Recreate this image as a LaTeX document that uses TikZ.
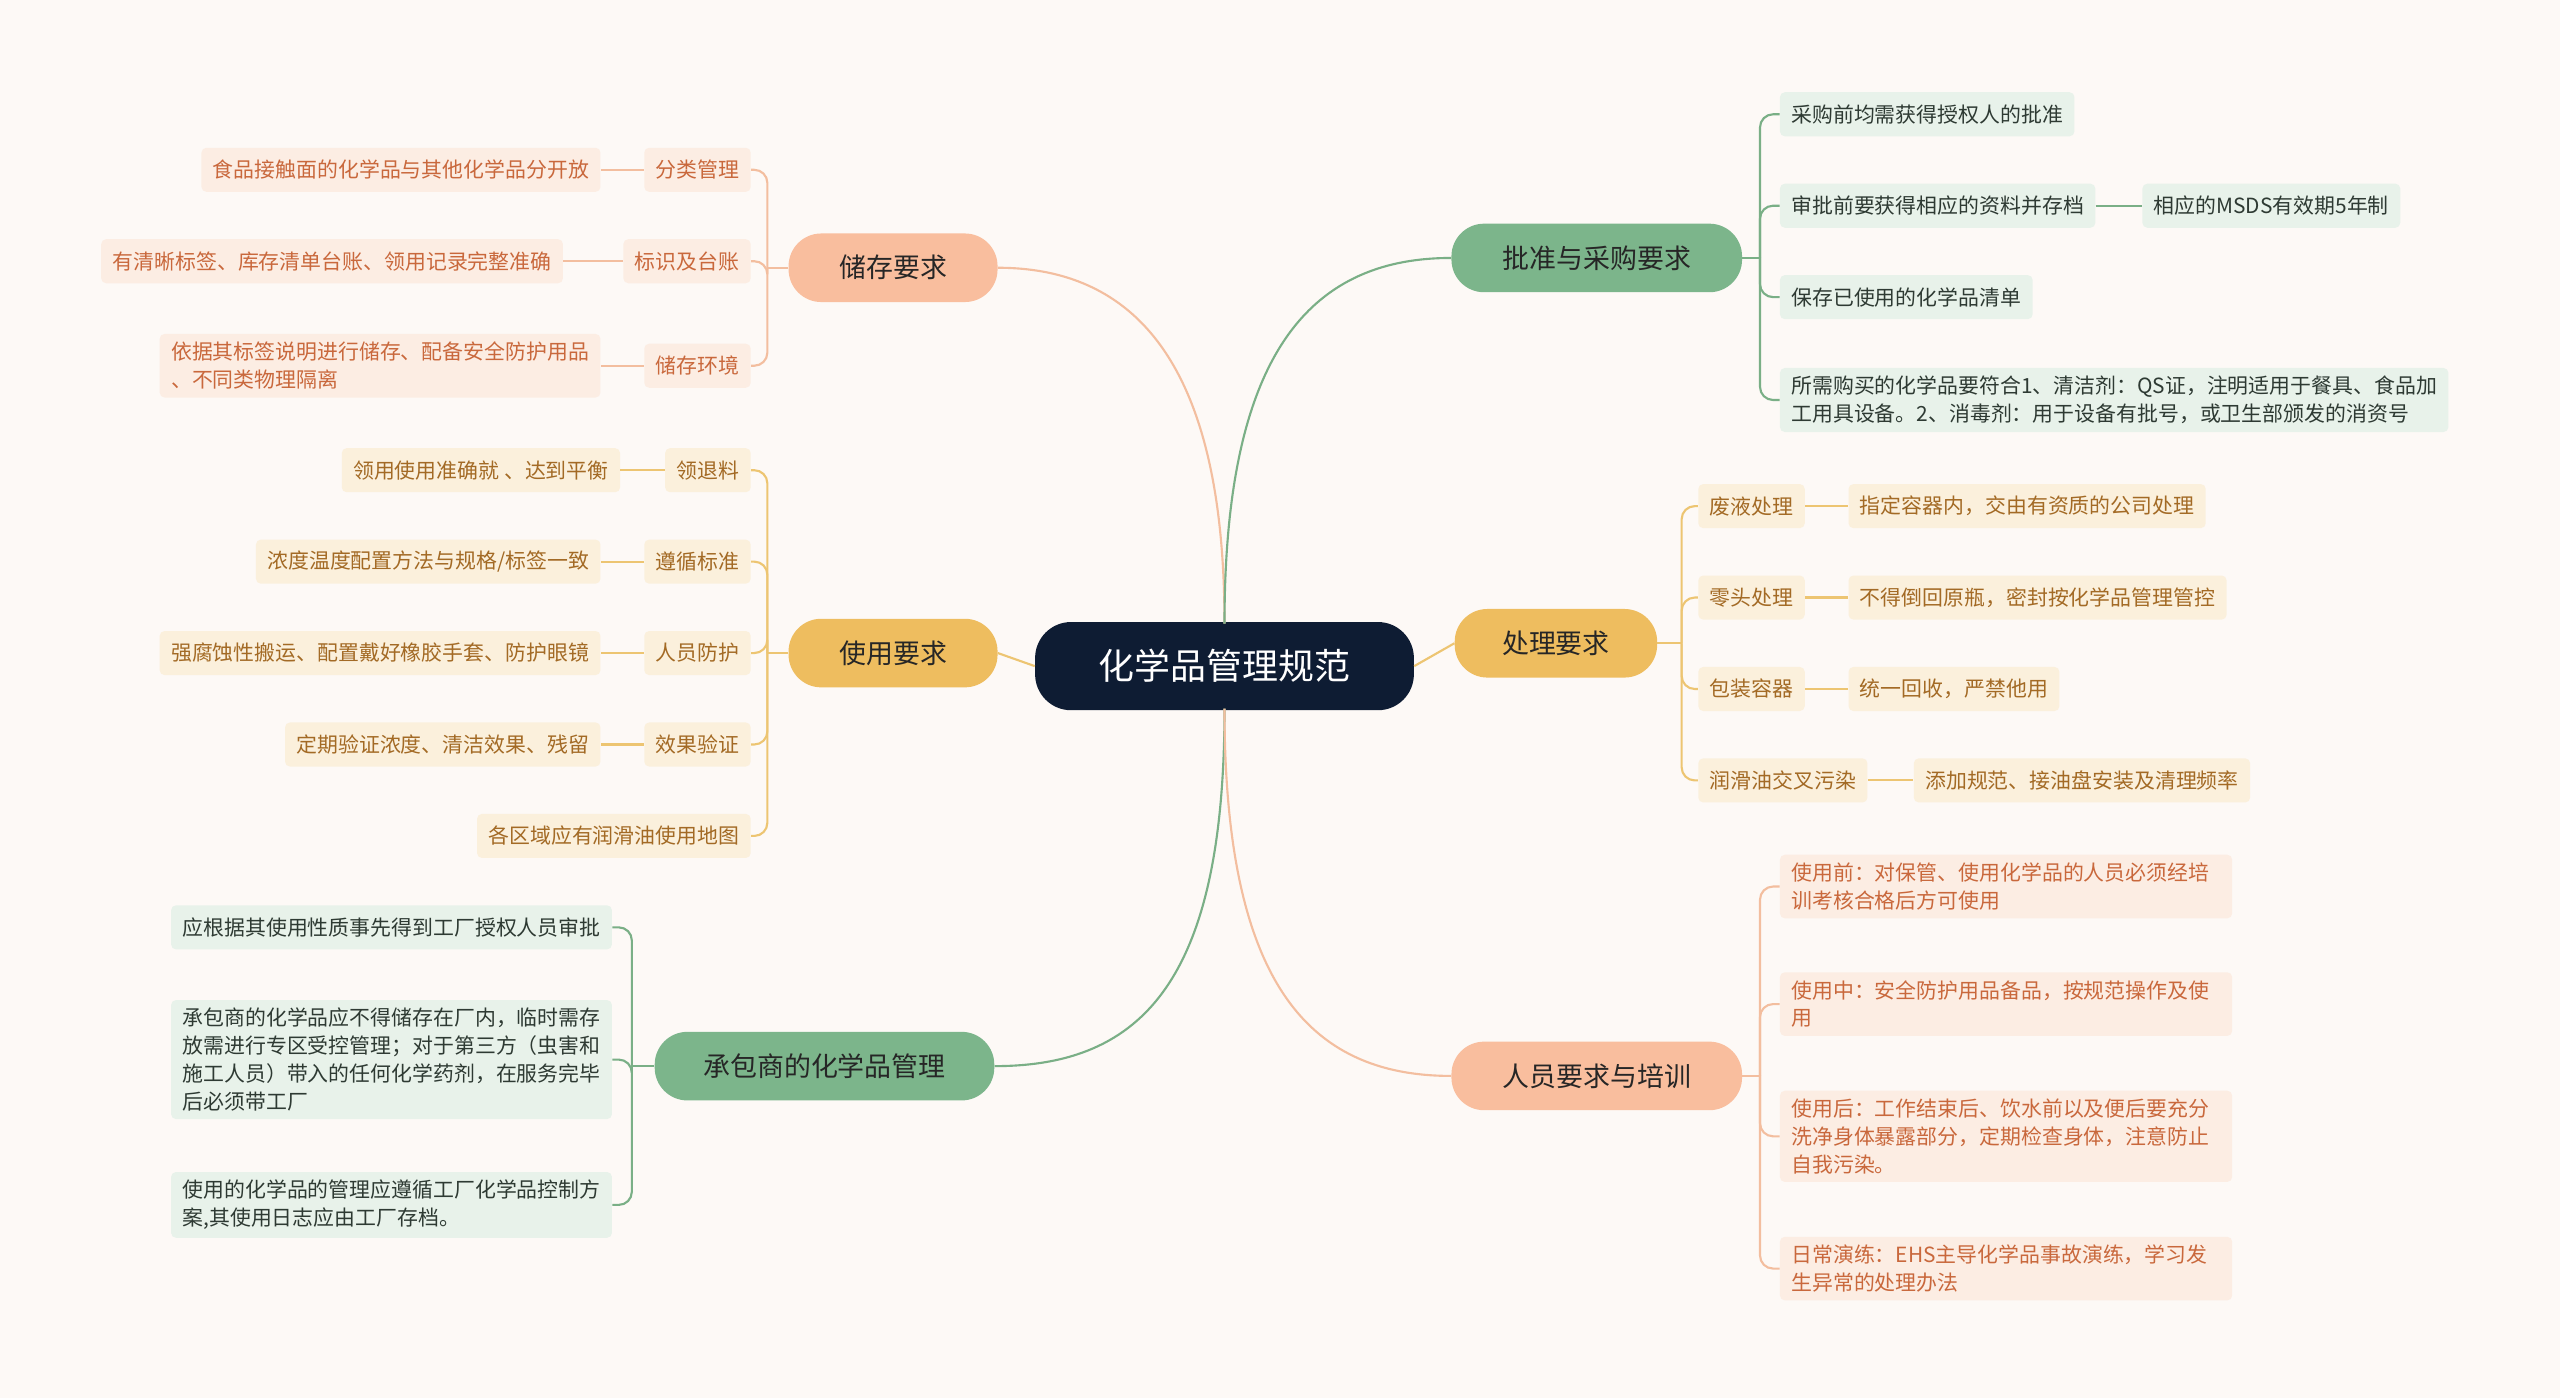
\documentclass[tikz,border=0pt]{standalone}
\usepackage{fontspec}
\setmainfont{Noto Sans CJK SC}
\begin{document}
\begin{tikzpicture}[x=1pt,y=-1pt,
  cnode/.style={fill=navy,rounded corners=22,minimum width=232,minimum height=54,text=white,font=\fontsize{22}{26}\selectfont},
  br/.style={rounded corners=20,minimum height=42,inner xsep=14,font=\fontsize{16.5}{20}\selectfont},
  lf/.style={rounded corners=3,inner xsep=7,inner ysep=5,minimum height=27,align=left,font=\fontsize{12.8}{17}\selectfont},
  peachlf/.style={lf,fill=peachL,text=peachT},
  goldlf/.style={lf,fill=goldL,text=goldT},
  greenlf/.style={lf,fill=greenL,text=greenT},
  peachln/.style={draw=peachD,line width=1.3},
  goldln/.style={draw=goldD,line width=1.3},
  greenln/.style={draw=greenD,line width=1.3},
  bk/.style={rounded corners=8}]
\definecolor{navy}{HTML}{0E1C33}
\definecolor{bg}{HTML}{FDF9F6}
\definecolor{peach}{HTML}{F9BE9E}\definecolor{peachD}{HTML}{F3BE9F}\definecolor{peachL}{HTML}{FCEDE3}\definecolor{peachT}{HTML}{C9683C}
\definecolor{gold}{HTML}{EEBD5F}\definecolor{goldD}{HTML}{EDC572}\definecolor{goldL}{HTML}{FBF0DC}\definecolor{goldT}{HTML}{A36A25}
\definecolor{green}{HTML}{7CB58B}\definecolor{greenD}{HTML}{7AAF86}\definecolor{greenL}{HTML}{E8F2EA}\definecolor{greenT}{HTML}{2E3A33}
\fill[bg] (0,0) rectangle (1568,856);
\useasboundingbox (0,0) rectangle (1568,856);
% center and branches
\node[cnode] (c) at (750,408) {化学品管理规范};
\node[br,fill=peach,minimum width=128,text=black!85] (s) at (547,164) {储存要求};
\node[br,fill=gold,minimum width=128,text=black!85] (u) at (547,400) {使用要求};
\node[br,fill=green,minimum width=208,text=black!85] (k) at (505,653) {承包商的化学品管理};
\node[br,fill=green,minimum width=178,text=black!85] (a) at (978,158) {批准与采购要求};
\node[br,fill=gold,minimum width=124,text=black!85] (p) at (953,394) {处理要求};
\node[br,fill=peach,minimum width=178,text=black!85] (r) at (978,659) {人员要求与培训};
\draw[peachln] (750,382) .. controls (750,230) and (700,164) .. (s.east);
\draw[goldln] (c.west) -- (u.east);
\draw[greenln] (750,434) .. controls (750,600) and (700,653) .. (k.east);
\draw[greenln] (750,382) .. controls (750,220) and (800,158) .. (a.west);
\draw[goldln] (c.east) -- (p.west);
\draw[peachln] (750,434) .. controls (750,600) and (800,659) .. (r.west);
% storage
\node[peachlf,anchor=east] (s1) at (460,104) {分类管理};
\node[peachlf,anchor=east] (s1a) at (368,104) {食品接触面的化学品与其他化学品分开放};
\node[peachlf,anchor=east] (s2) at (460,160) {标识及台账};
\node[peachlf,anchor=east] (s2a) at (345,160) {有清晰标签、库存清单台账、领用记录完整准确};
\node[peachlf,anchor=east] (s3) at (460,224) {储存环境};
\node[peachlf,anchor=east] (s3a) at (368,224) {依据其标签说明进行储存、配备安全防护用品\\、不同类物理隔离};
\coordinate (sb) at (470,164);
\draw[peachln] (s.west) -- (sb);
\foreach \n in {s1,s2,s3}{\draw[peachln,bk] (sb) -- (sb|-\n.east) -- (\n.east);}
\draw[peachln] (s1.west)--(s1a.east) (s2.west)--(s2a.east) (s3.west)--(s3a.east);
% use
\node[goldlf,anchor=east] (u1) at (460,288) {领退料};
\node[goldlf,anchor=east] (u1a) at (380,288) {领用使用准确就 、达到平衡};
\node[goldlf,anchor=east] (u2) at (460,344) {遵循标准};
\node[goldlf,anchor=east] (u2a) at (368,344) {浓度温度配置方法与规格/标签一致};
\node[goldlf,anchor=east] (u3) at (460,400) {人员防护};
\node[goldlf,anchor=east] (u3a) at (368,400) {强腐蚀性搬运、配置戴好橡胶手套、防护眼镜};
\node[goldlf,anchor=east] (u4) at (460,456) {效果验证};
\node[goldlf,anchor=east] (u4a) at (368,456) {定期验证浓度、清洁效果、残留};
\node[goldlf,anchor=east] (u5) at (460,512) {各区域应有润滑油使用地图};
\coordinate (ub) at (470,400);
\draw[goldln] (u.west) -- (ub);
\foreach \n in {u1,u2,u3,u4,u5}{\draw[goldln,bk] (ub) -- (ub|-\n.east) -- (\n.east);}
\draw[goldln] (u1.west)--(u1a.east) (u2.west)--(u2a.east) (u3.west)--(u3a.east) (u4.west)--(u4a.east);
% contractor
\node[greenlf,anchor=east] (k1) at (375,568) {应根据其使用性质事先得到工厂授权人员审批};
\node[greenlf,anchor=east] (k2) at (375,649) {承包商的化学品应不得储存在厂内，临时需存\\放需进行专区受控管理；对于第三方（虫害和\\施工人员）带入的任何化学药剂，在服务完毕\\后必须带工厂};
\node[greenlf,anchor=east] (k3) at (375,738) {使用的化学品的管理应遵循工厂化学品控制方\\案,其使用日志应由工厂存档。};
\coordinate (kb) at (387,653);
\draw[greenln] (k.west) -- (kb);
\foreach \n in {k1,k2,k3}{\draw[greenln,bk] (kb) -- (kb|-\n.east) -- (\n.east);}
% approval
\node[greenlf,anchor=west] (a1) at (1090,70) {采购前均需获得授权人的批准};
\node[greenlf,anchor=west] (a2) at (1090,126) {审批前要获得相应的资料并存档};
\node[greenlf,anchor=west] (a2a) at (1312,126) {相应的MSDS有效期5年制};
\node[greenlf,anchor=west] (a3) at (1090,182) {保存已使用的化学品清单};
\node[greenlf,anchor=west] (a4) at (1090,245) {所需购买的化学品要符合1、清洁剂：QS证，注明适用于餐具、食品加\\工用具设备。2、消毒剂：用于设备有批号，或卫生部颁发的消资号};
\coordinate (ab) at (1078,158);
\draw[greenln] (a.east) -- (ab);
\foreach \n in {a1,a2,a3,a4}{\draw[greenln,bk] (ab) -- (ab|-\n.west) -- (\n.west);}
\draw[greenln] (a2.east)--(a2a.west);
% processing
\node[goldlf,anchor=west] (p1) at (1040,310) {废液处理};
\node[goldlf,anchor=west] (p1a) at (1132,310) {指定容器内，交由有资质的公司处理};
\node[goldlf,anchor=west] (p2) at (1040,366) {零头处理};
\node[goldlf,anchor=west] (p2a) at (1132,366) {不得倒回原瓶，密封按化学品管理管控};
\node[goldlf,anchor=west] (p3) at (1040,422) {包装容器};
\node[goldlf,anchor=west] (p3a) at (1132,422) {统一回收，严禁他用};
\node[goldlf,anchor=west] (p4) at (1040,478) {润滑油交叉污染};
\node[goldlf,anchor=west] (p4a) at (1172,478) {添加规范、接油盘安装及清理频率};
\coordinate (pb) at (1030,394);
\draw[goldln] (p.east) -- (pb);
\foreach \n in {p1,p2,p3,p4}{\draw[goldln,bk] (pb) -- (pb|-\n.west) -- (\n.west);}
\draw[goldln] (p1.east)--(p1a.west) (p2.east)--(p2a.west) (p3.east)--(p3a.west) (p4.east)--(p4a.west);
% personnel
\node[peachlf,anchor=west,text width=263] (r1) at (1090,543) {使用前：对保管、使用化学品的人员必须经培\\训考核合格后方可使用};
\node[peachlf,anchor=west,text width=263] (r2) at (1090,615) {使用中：安全防护用品备品，按规范操作及使\\用};
\node[peachlf,anchor=west,text width=263] (r3) at (1090,696) {使用后：工作结束后、饮水前以及便后要充分\\洗净身体暴露部分，定期检查身体，注意防止\\自我污染。};
\node[peachlf,anchor=west,text width=263] (r4) at (1090,777) {日常演练：EHS主导化学品事故演练，学习发\\生异常的处理办法};
\coordinate (rb) at (1078,659);
\draw[peachln] (r.east) -- (rb);
\foreach \n in {r1,r2,r3,r4}{\draw[peachln,bk] (rb) -- (rb|-\n.west) -- (\n.west);}
\end{tikzpicture}
\end{document}
